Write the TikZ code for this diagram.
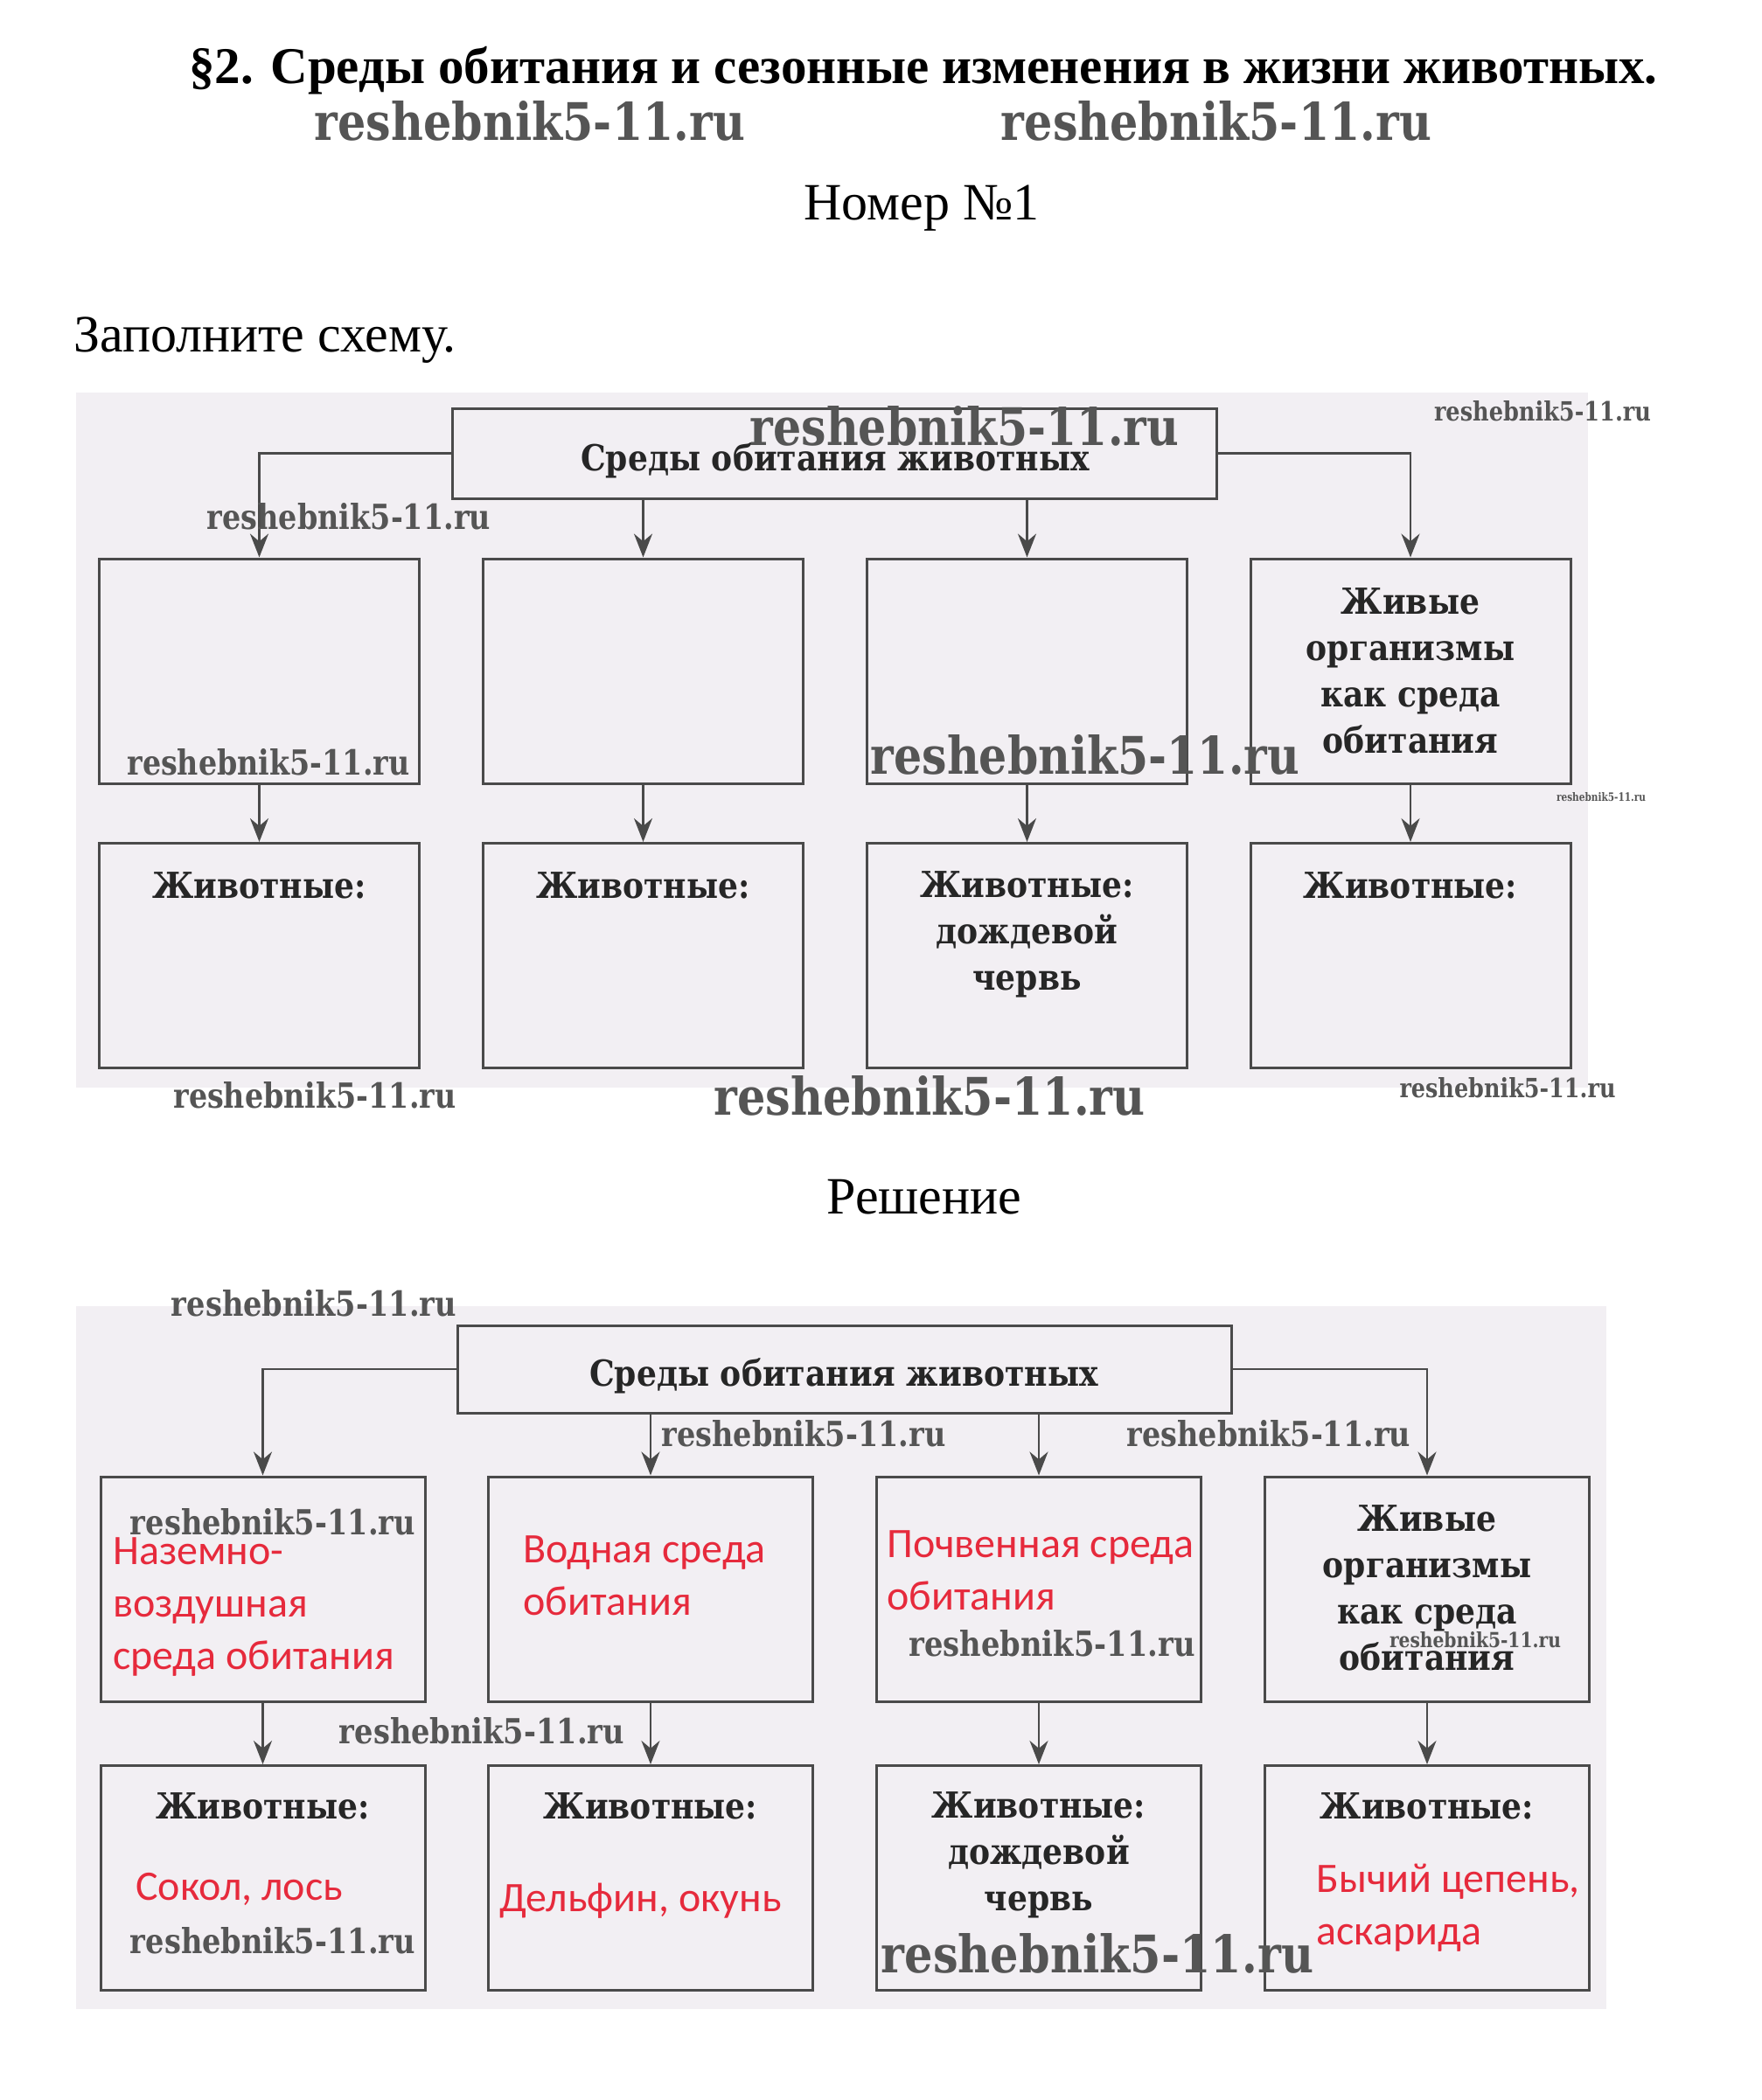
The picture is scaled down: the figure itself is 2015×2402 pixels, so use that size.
\documentclass[tikz,border=0pt]{standalone}
\usepackage{fontspec}
\setmainfont{Liberation Serif}
\newfontfamily\bookfont[FakeStretch=0.88]{DejaVu Serif}
\newfontfamily\ansfont{Carlito}
\newfontfamily\wmfont{DejaVu Serif}
\usetikzlibrary{arrows.meta}
\definecolor{bgc}{HTML}{F2EFF3}
\definecolor{lnc}{HTML}{4A4A4A}
\definecolor{ansc}{HTML}{E62A3C}
\definecolor{wmc}{HTML}{555555}
\newcommand{\wmtext}[2]{\resizebox{#1pt}{#2pt}{reshebnik5-11.ru}}
\tikzset{
  bx/.style={draw=lnc, line width=3pt, inner sep=0pt},
  bxA/.style={bx, minimum width=366pt, minimum height=257pt},
  bxB/.style={bx, minimum width=371pt, minimum height=257pt},
  arr/.style={draw=lnc, line width=2.5pt, -{Stealth[length=27pt,width=21pt]}},
  book/.style={font=\bookfont\bfseries\fontsize{41}{53}\selectfont, text=black!85, align=center, inner sep=0pt},
  answer/.style={font=\ansfont\fontsize{48}{60}\selectfont, text=ansc, align=left, inner sep=0pt, anchor=west},
  wm/.style={font=\wmfont\bfseries, text=wmc, inner sep=0pt},
  head/.style={font=\fontsize{60}{66}\selectfont, inner sep=0pt},
}
\begin{document}
\begin{tikzpicture}[x=1pt,y=-1pt]
\useasboundingbox (0,0) rectangle (2015,2402);
% headings
\node[head, font=\bfseries\fontsize{59}{64}\selectfont] (title) at (1056,81) {§2. Среды обитания и сезонные изменения в жизни животных.};
\node[head] (nomer) at (1054,238) {Номер №1};
\node[head, anchor=west] (task) at (84,389) {Заполните схему.};
\node[head] (resh) at (1057,1369) {Решение};
% backgrounds
\fill[bgc] (87,449) rectangle (1816,1244);
\fill[bgc] (87,1494) rectangle (1837,2298);
% ---------- diagram 1
\node[bx, minimum width=874pt, minimum height=103pt] (t1) at (954.5,518.5) {};
\node[bxA] (a1) at (296.5,767.5) {};
\node[bxA] (a2) at (735.5,767.5) {};
\node[bxA] (a3) at (1174.5,767.5) {};
\node[bxA] (a4) at (1613,767.5) {};
\node[bxA] (b1) at (296.5,1093) {};
\node[bxA] (b2) at (735.5,1093) {};
\node[bxA] (b3) at (1174.5,1093) {};
\node[bxA] (b4) at (1613,1093) {};
\draw[arr] (t1.west) -| (a1.north);
\draw[arr] (t1.east) -| (a4.north);
\draw[arr] (t1.south -| a2.north) -- (a2.north);
\draw[arr] (t1.south -| a3.north) -- (a3.north);
\draw[arr] (a1) -- (b1);
\draw[arr] (a2) -- (b2);
\draw[arr] (a3) -- (b3);
\draw[arr] (a4) -- (b4);
\node[book] (t1x) at (955,527) {Среды обитания животных};
\node[book] (a4x) at (1613,767) {Живые\\организмы\\как среда\\обитания};
\node[book] (b1x) at (296.5,1013) {Животные:};
\node[book] (b2x) at (735.5,1013) {Животные:};
\node[book] (b3x) at (1174.5,1069) {Животные:\\дождевой\\червь};
\node[book] (b4x) at (1613,1013) {Животные:};
% ---------- diagram 2
\node[bx, minimum width=885pt, minimum height=100pt] (t2) at (965.5,1566) {};
\node[bxB] (c1) at (300.5,1817.5) {};
\node[bxB] (c2) at (744,1817.5) {};
\node[bxB] (c3) at (1188,1817.5) {};
\node[bxB] (c4) at (1632,1817.5) {};
\node[bxB] (d1) at (300.5,2148) {};
\node[bxB] (d2) at (744,2148) {};
\node[bxB] (d3) at (1188,2148) {};
\node[bxB] (d4) at (1632,2148) {};
\draw[arr] (t2.west) -| (c1.north);
\draw[arr] (t2.east) -| (c4.north);
\draw[arr] (t2.south -| c2.north) -- (c2.north);
\draw[arr] (t2.south -| c3.north) -- (c3.north);
\draw[arr] (c1) -- (d1);
\draw[arr] (c2) -- (d2);
\draw[arr] (c3) -- (d3);
\draw[arr] (c4) -- (d4);
\node[book] (t2x) at (965,1574) {Среды обитания животных};
\node[book] (c4x) at (1632,1816) {Живые\\организмы\\как среда\\обитания};
\node[book] (d1x) at (300.5,2066) {Животные:};
\node[book] (d2x) at (744,2066) {Животные:};
\node[book] (d3x) at (1188,2122) {Животные:\\дождевой\\червь};
\node[book] (d4x) at (1632,2066) {Животные:};
\node[answer] (c1a) at (129,1838) {Наземно-\\воздушная\\среда обитания};
\node[answer] (c2a) at (598,1802) {Водная среда\\обитания};
\node[answer] (c3a) at (1014,1796) {Почвенная среда\\обитания};
\node[answer] (d1a) at (155,2161) {Сокол, лось};
\node[answer] (d2a) at (571,2174) {Дельфин, окунь};
\node[answer] (d4a) at (1505,2182) {Бычий цепень,\\аскарида};
% ---------- watermarks
\node[wm] (w01) at (606,138) {\wmtext{492}{45}};
\node[wm] (w02) at (1391,138) {\wmtext{492}{45}};
\node[wm] (w03) at (1103,487) {\wmtext{490}{45}};
\node[wm] (w04) at (1764,470) {\wmtext{248}{23}};
\node[wm] (w05) at (399,591) {\wmtext{324}{30}};
\node[wm] (w06) at (307,872) {\wmtext{323}{30}};
\node[wm] (w07) at (1241,863) {\wmtext{490}{45}};
\node[wm] (w08) at (1831,912) {\wmtext{102}{10}};
\node[wm] (w09) at (360,1253) {\wmtext{323}{30}};
\node[wm] (w10) at (1063,1253) {\wmtext{493}{45}};
\node[wm] (w11) at (1724,1244) {\wmtext{247}{23}};
\node[wm] (w12) at (359,1491) {\wmtext{326}{30}};
\node[wm] (w13) at (919,1640) {\wmtext{325}{30}};
\node[wm] (w14) at (1451,1640) {\wmtext{324}{30}};
\node[wm] (w15) at (551,1980) {\wmtext{326}{30}};
\node[wm] (w16) at (312,1741) {\wmtext{326}{30}};
\node[wm] (w17) at (1203,1880) {\wmtext{327}{30}};
\node[wm] (w18) at (1687,1876) {\wmtext{196}{18}};
\node[wm] (w19) at (312,2220) {\wmtext{326}{30}};
\node[wm] (w20) at (1255,2234) {\wmtext{494}{45}};
\end{tikzpicture}
\end{document}
